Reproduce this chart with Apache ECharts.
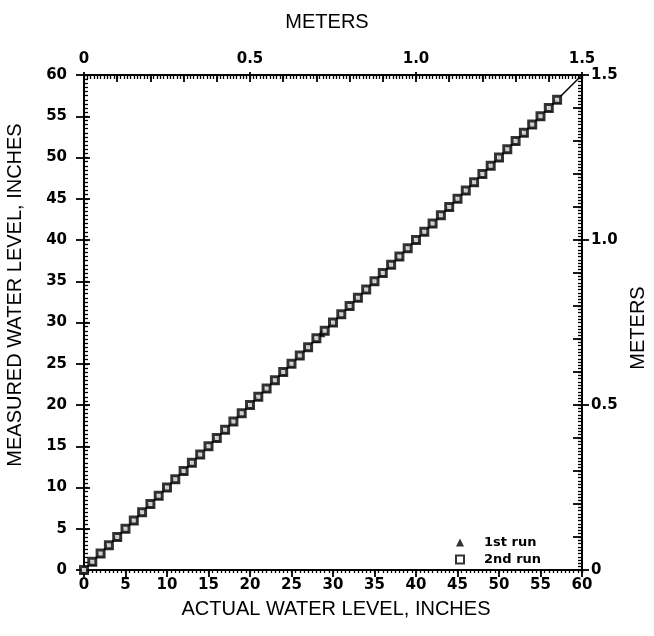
<!DOCTYPE html>
<html>
<head>
<meta charset="utf-8">
<script src="https://cdn.jsdelivr.net/npm/echarts@6/dist/echarts.min.js"></script>
<style>html,body{margin:0;padding:0;background:#fff}#c{width:654px;height:636px}</style>
</head>
<body>
<div id="c"></div>
<script>
// Data (inches)
const run2Actual   = [0,1,2,3,4,5,6,7,8,9,10,11,12,13,14,15,16,17,18,19,20,21,22,23,24,25,26,27,28,29,30,31,32,33,34,35,36,37,38,39,40,41,42,43,44,45,46,47,48,49,50,51,52,53,54,55,56,57];
const run2Measured = [0,1,2,3,4,5,6,7,8,9,10,11,12,13,14,15,16,17,18,19,20,21,22,23,24,25,26,27,28.1,29,30,31,32,33,34,35,36,37,38,39,40,41,42,43,44,45,46,47,48,49,50,51,52,53,54,55,56,57];
const run1Actual   = [0,1,2,3,4,5,6,7,8,9,10,11,12,13,14,15,16,17,18,19,20,21,22,23,24,25,26,27,28,28.6,29,30,31,32,33,34,35,36,37,38,39,40,41,42,43,44,45,46,47,48,49,50,51,52,53,54,55,56,57];
const run1Measured = [0,1,2,3,4,5,6,7,8,9,10,11,12,13,14,15,16,17,18,19,20,21,22,23,24,25,26,27,28,28.7,29,30,31,32,33,34,35,36,37,38,39,40,41,42,43,44,45,46,47,48,49,50,51,52,53,54,55,56,57];
const refLineX = [0, 60];
const refLineY = [0, 60];
const seriesNames = ['1st run', '2nd run'];
const inchRange = [0, 60];
const inchMajor = 5, inchMinor = 0.5;
const meterRange = [0, 1.5];
const meterLabel = 0.5, meterMajor = 0.1, meterMinor = 0.01;

const zip = (a, b) => a.map((v, i) => [v, b[i]]);
const lblFont = {fontFamily: 'DejaVu Sans', fontWeight: 'bold', fontSize: 15, color: '#000'};
const mFmt = v => (Math.abs(v) < 1e-9 ? '0' : v.toFixed(1));

function ax(position, range, interval, opts) {
  return {
    type: 'value', position: position, min: range[0], max: range[1], interval: interval,
    axisLine: {show: !!opts.line, onZero: false, lineStyle: {color: '#000', width: 2}},
    splitLine: {show: false},
    axisTick: {show: true, inside: !!opts.inside, length: opts.len, lineStyle: {color: '#000', width: opts.w || 1.3}},
    axisLabel: opts.label ? Object.assign({show: true, margin: opts.margin}, lblFont, opts.fmt ? {formatter: opts.fmt} : {}) : {show: false},
    axisPointer: {show: false}
  };
}

const chart = echarts.init(document.getElementById('c'), null, {renderer: 'canvas'});
chart.setOption({
  animation: false,
  backgroundColor: '#fff',
  grid: {left: 84, right: 72, top: 75, bottom: 66, containLabel: false},
  xAxis: [
    ax('bottom', inchRange, inchMajor, {line: true, len: 7, w: 1.8, label: true, margin: 8}),
    ax('bottom', inchRange, inchMinor, {len: 3}),
    ax('top', meterRange, meterLabel, {line: true, len: 3, w: 1.8, label: true, margin: 8, fmt: mFmt}),
    ax('top', meterRange, meterMajor, {inside: true, len: 7, w: 1.8}),
    ax('top', meterRange, meterMinor, {inside: true, len: 4})
  ],
  yAxis: [
    ax('left', inchRange, inchMajor, {line: true, len: 8, w: 1.8, label: true, margin: 17}),
    ax('left', inchRange, inchMajor, {inside: true, len: 6, w: 1.8}),
    ax('left', inchRange, inchMinor, {inside: true, len: 4}),
    ax('right', meterRange, meterLabel, {line: true, len: 7, w: 1.8, label: true, margin: 9, fmt: mFmt}),
    ax('right', meterRange, meterMajor, {inside: true, len: 9, w: 1.8}),
    ax('right', meterRange, meterMinor, {inside: true, len: 4})
  ],
  legend: {
    data: [{name: seriesNames[0], icon: 'triangle'}, {name: seriesNames[1], icon: 'rect'}],
    orient: 'vertical', left: 450, top: 531, itemWidth: 8, itemHeight: 8, itemGap: 4,
    textStyle: {fontFamily: 'DejaVu Sans', fontWeight: 'bold', fontSize: 13, color: '#000', padding: [0, 0, 0, 15]},
    selectedMode: false
  },
  series: [
    {name: 'ref', type: 'line', xAxisIndex: 0, yAxisIndex: 0, data: zip(refLineX, refLineY),
     showSymbol: false, symbol: 'none', lineStyle: {color: '#000', width: 1.5}, z: 1, silent: true},
    {name: seriesNames[0], type: 'scatter', xAxisIndex: 0, yAxisIndex: 0, data: zip(run1Actual, run1Measured),
     symbol: 'triangle', symbolSize: 8, itemStyle: {color: '#000'}, z: 2},
    {name: seriesNames[1], type: 'scatter', xAxisIndex: 0, yAxisIndex: 0, data: zip(run2Actual, run2Measured),
     symbol: 'rect', symbolSize: 7, itemStyle: {color: '#fff', borderColor: '#000', borderWidth: 3}, z: 3}
  ],
  graphic: [
    {type: 'text', left: 'center', top: 12, style: {text: 'METERS', font: '20px "Liberation Sans"', fill: '#000'}},
    {type: 'text', x: 336, y: 609, style: {text: 'ACTUAL WATER LEVEL, INCHES', font: '20px "Liberation Sans"', fill: '#000', align: 'center', verticalAlign: 'middle'}},
    {type: 'text', x: 15, y: 295, rotation: Math.PI / 2, style: {text: 'MEASURED WATER LEVEL, INCHES', font: '20px "Liberation Sans"', fill: '#000', align: 'center', verticalAlign: 'middle'}},
    {type: 'text', x: 638, y: 328, rotation: Math.PI / 2, style: {text: 'METERS', font: '20px "Liberation Sans"', fill: '#000', align: 'center', verticalAlign: 'middle'}}
  ]
});
</script>
</body>
</html>
